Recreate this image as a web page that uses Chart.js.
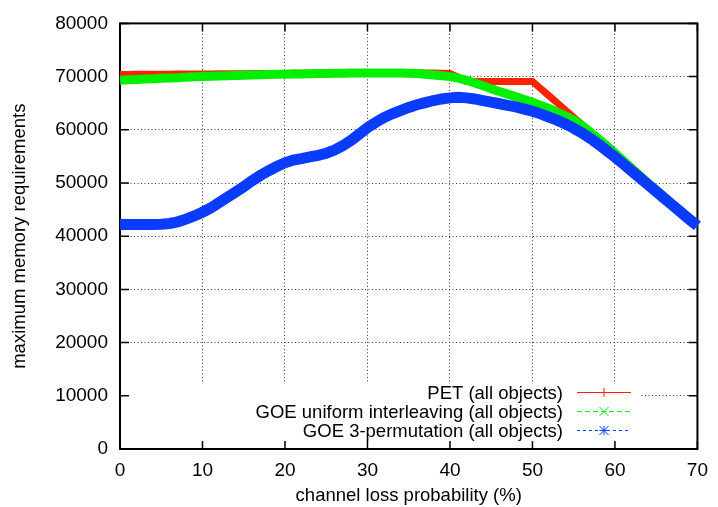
<!DOCTYPE html>
<html>
<head>
<meta charset="utf-8">
<script src="https://cdn.jsdelivr.net/npm/chart.js@4.4.1/dist/chart.umd.min.js"></script>
<style>
  html, body { margin: 0; padding: 0; background: #fff; }
  #wrap { width: 718px; height: 507px; }
</style>
</head>
<body>
<div id="wrap"><canvas id="chart" width="718" height="507"></canvas></div>
<script>
// channel loss probability (%), one reading per percent
const lossPct = [];
for (let i = 0; i <= 70; i++) lossPct.push(i);

const petAll = [
  70400, 70410, 70420, 70430, 70440, 70450, 70460, 70470, 70480, 70490,
  70500, 70510, 70520, 70530, 70540, 70550, 70560, 70570, 70580, 70590,
  70600, 70610, 70620, 70630, 70640, 70650, 70660, 70670, 70680, 70690,
  70700, 70700, 70700, 70700, 70700, 70700, 70700, 70680, 70660, 70640,
  70600, 69900, 69100, 69100, 69100, 69100, 69100, 69100, 69100, 69100,
  69100, 67750, 66400, 65050, 63700, 62350, 61000, 59650, 58300, 56950,
  55600, 54250, 52900, 51550, 50200, 48850, 47500, 46150, 44800, 43450,
  42100
];

const goeUniform = [
  69300, 69400, 69450, 69550, 69600, 69700, 69750, 69800, 69900, 69950,
  70000, 70050, 70100, 70150, 70200, 70250, 70300, 70350, 70400, 70420,
  70450, 70480, 70500, 70530, 70560, 70590, 70620, 70650, 70680, 70700,
  70700, 70700, 70700, 70680, 70660, 70630, 70580, 70450, 70300, 70150,
  70000, 69700, 69300, 68800, 68300, 67700, 67200, 66700, 66200, 65700,
  65200, 64600, 64000, 63300, 62600, 61800, 60800, 59600, 58300, 57000,
  55600, 54200, 52800, 51400, 50000, 48700, 47350, 46000, 44650, 43300,
  42000
];

const goePerm = [
  42200, 42200, 42200, 42200, 42220, 42250, 42400, 42700, 43200, 43800,
  44500, 45300, 46300, 47300, 48300, 49300, 50400, 51400, 52300, 53100,
  53800, 54300, 54600, 54900, 55200, 55600, 56200, 57000, 58000, 59200,
  60400, 61400, 62300, 63000, 63600, 64200, 64700, 65100, 65500, 65800,
  66000, 66100, 66000, 65800, 65500, 65200, 64900, 64600, 64300, 63900,
  63500, 63000, 62400, 61800, 61100, 60300, 59400, 58400, 57300, 56100,
  54900, 53600, 52300, 51000, 49700, 48400, 47100, 45800, 44500, 43200,
  41950
];

const xTicks = [0, 10, 20, 30, 40, 50, 60, 70];
const yTicks = [0, 10000, 20000, 30000, 40000, 50000, 60000, 70000, 80000];

const seriesNames = [
  "PET (all objects)",
  "GOE uniform interleaving (all objects)",
  "GOE 3-permutation (all objects)"
];

const RED = "#ff2200";
const GREEN = "#00f000";
const BLUE = "#0a3cff";
const FONT = "Liberation Sans, Arial, Helvetica, sans-serif";
const FS = 18.5;

function toPoints(ys) {
  return lossPct.map((x, i) => ({ x: x, y: ys[i] }));
}

// opaque key box, inward tick marks and the frame, gnuplot style
const framePlugin = {
  id: "frame",
  beforeDatasetsDraw(chart) {
    const ctx = chart.ctx;
    const a = chart.chartArea;
    const xs = chart.scales.x, ys = chart.scales.y;
    ctx.save();
    ctx.fillStyle = "#fff";
    ctx.fillRect(a.left + 1, 383, 641 - a.left - 1, a.bottom - 383 - 1);

    ctx.strokeStyle = "#000";
    ctx.lineWidth = 1.5;
    ctx.beginPath();
    for (const v of xTicks) {
      const px = xs.getPixelForValue(v);
      ctx.moveTo(px, a.bottom); ctx.lineTo(px, a.bottom - 8);
      ctx.moveTo(px, a.top); ctx.lineTo(px, a.top + 8);
    }
    for (const v of yTicks) {
      const py = ys.getPixelForValue(v);
      ctx.moveTo(a.left, py); ctx.lineTo(a.left + 9, py);
      ctx.moveTo(a.right, py); ctx.lineTo(a.right - 9, py);
    }
    ctx.stroke();
    ctx.lineWidth = 2;
    ctx.strokeRect(a.left, a.top, a.right - a.left, a.bottom - a.top);
    ctx.restore();
  },
  afterDatasetsDraw(chart) {
    const ctx = chart.ctx;
    const rows = [
      { y: 392.5, color: RED, dash: [], mark: "plus" },
      { y: 411.5, color: GREEN, dash: [5, 3], mark: "x" },
      { y: 430.5, color: BLUE, dash: [3, 3], mark: "star" }
    ];
    ctx.save();
    ctx.font = FS + "px " + FONT;
    ctx.textAlign = "right";
    ctx.textBaseline = "middle";
    rows.forEach((r, i) => {
      ctx.fillStyle = "#000";
      ctx.fillText(seriesNames[i], 563, r.y + 1);
      ctx.strokeStyle = r.color;
      ctx.lineWidth = 1;
      ctx.setLineDash(r.dash);
      ctx.beginPath();
      ctx.moveTo(577, r.y); ctx.lineTo(631, r.y);
      ctx.stroke();
      ctx.setLineDash([]);
      const cx = 604, s = 4.5;
      ctx.beginPath();
      if (r.mark === "plus" || r.mark === "star") {
        ctx.moveTo(cx - s, r.y); ctx.lineTo(cx + s, r.y);
        ctx.moveTo(cx, r.y - s); ctx.lineTo(cx, r.y + s);
      }
      if (r.mark === "x" || r.mark === "star") {
        ctx.moveTo(cx - s, r.y - s); ctx.lineTo(cx + s, r.y + s);
        ctx.moveTo(cx - s, r.y + s); ctx.lineTo(cx + s, r.y - s);
      }
      ctx.stroke();
    });
    ctx.restore();
  }
};

new Chart(document.getElementById("chart"), {
  type: "line",
  data: {
    datasets: [
      {
        label: seriesNames[0],
        data: toPoints(petAll),
        borderColor: RED,
        borderWidth: 7,
        pointRadius: 0,
        tension: 0,
        order: 3,
        clip: 6
      },
      {
        label: seriesNames[1],
        data: toPoints(goeUniform),
        borderColor: GREEN,
        borderWidth: 9,
        pointRadius: 0,
        tension: 0,
        order: 2,
        clip: 6
      },
      {
        label: seriesNames[2],
        data: toPoints(goePerm),
        borderColor: BLUE,
        borderWidth: 11,
        pointRadius: 0,
        tension: 0,
        order: 1,
        clip: 6
      }
    ]
  },
  options: {
    responsive: false,
    animation: false,
    layout: { padding: { top: 20, right: 15, left: 0, bottom: 0 } },
    plugins: {
      legend: { display: false },
      tooltip: { enabled: false }
    },
    scales: {
      x: {
        type: "linear",
        min: 0,
        max: 70,
        afterFit(scale) { scale.height = 58; },
        afterBuildTicks(scale) { scale.ticks = xTicks.map(v => ({ value: v })); },
        ticks: {
          color: "#000", padding: 10, maxRotation: 0,
          font: { family: FONT, size: 19 },
          callback: v => String(v)
        },
        grid: { color: "#333", lineWidth: 1, drawTicks: false },
        border: { display: false, dash: [1, 2.5] },
        title: {
          display: true,
          text: "channel loss probability (%)",
          color: "#000",
          font: { family: FONT, size: FS },
          padding: { top: 0, bottom: 0 }
        }
      },
      y: {
        min: 0,
        max: 80000,
        afterFit(scale) { scale.width = 120; },
        afterBuildTicks(scale) { scale.ticks = yTicks.map(v => ({ value: v })); },
        ticks: {
          color: "#000", padding: 12,
          font: { family: FONT, size: 19 },
          callback: v => String(v)
        },
        grid: { color: "#333", lineWidth: 1, drawTicks: false },
        border: { display: false, dash: [1, 2.5] },
        title: {
          display: true,
          text: "maximum memory requirements",
          color: "#000",
          font: { family: FONT, size: FS },
          padding: { top: 9, bottom: 0 }
        }
      }
    }
  },
  plugins: [framePlugin]
});
</script>
</body>
</html>
